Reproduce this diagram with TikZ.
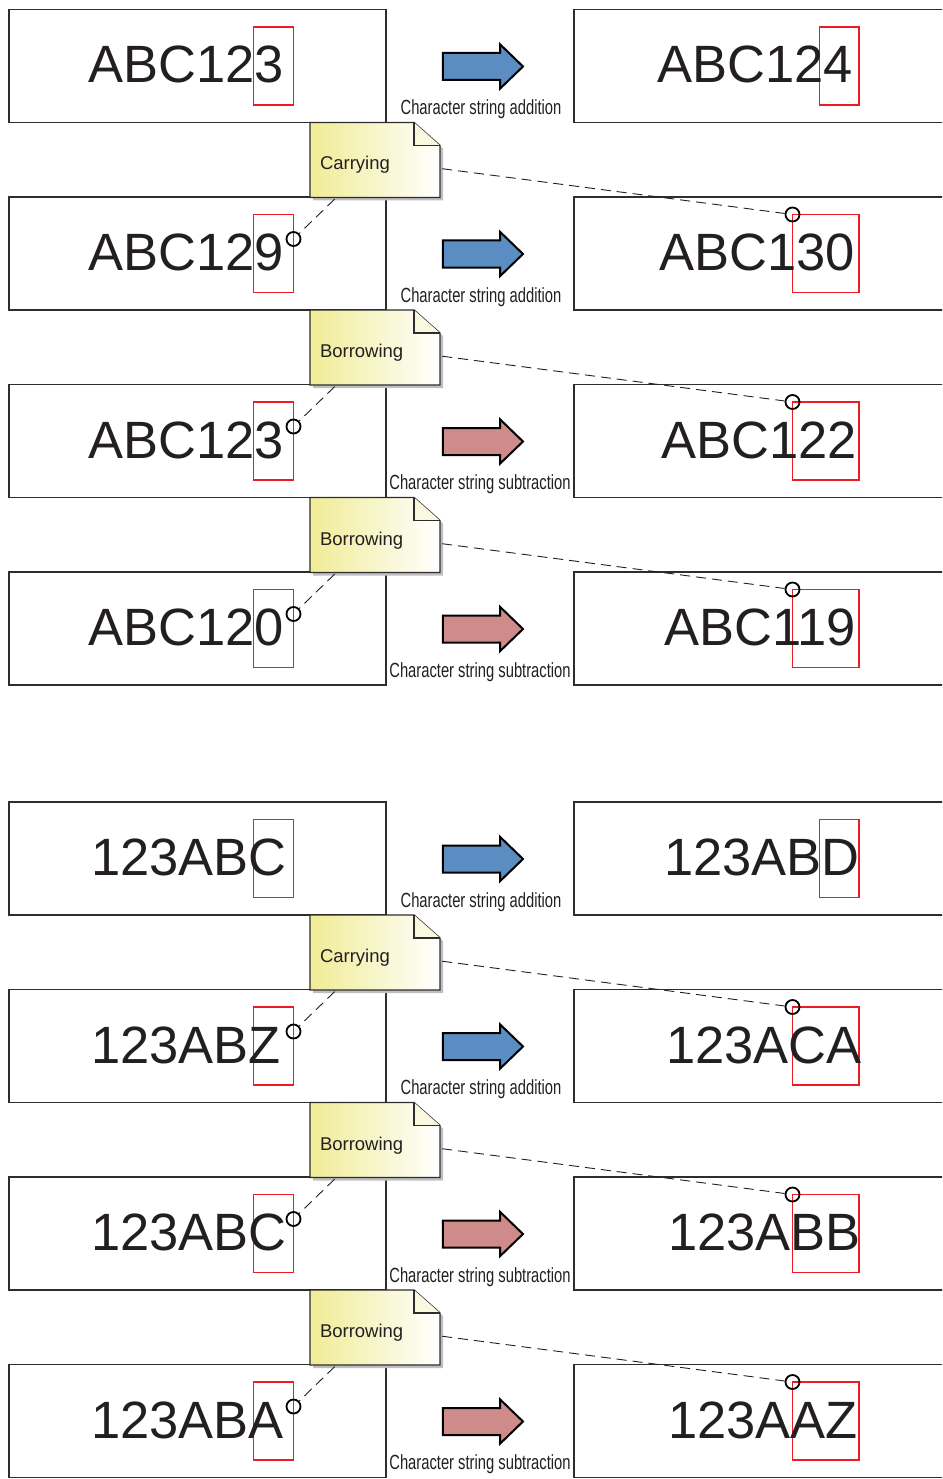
\documentclass[tikz,border=0pt]{standalone}
\usepackage{fontspec}
\setmainfont{Liberation Sans}
\newfontfamily\condensed[FakeStretch=0.72]{Liberation Sans}
\usetikzlibrary{shapes.arrows}

\definecolor{ink}{RGB}{35,31,32}
\definecolor{framegray}{RGB}{45,45,45}
\definecolor{hired}{RGB}{237,28,36}
\definecolor{addblue}{RGB}{92,141,194}
\definecolor{subpink}{RGB}{207,138,138}
\definecolor{memoyellow}{RGB}{240,236,150}
\definecolor{memofold}{RGB}{250,248,222}
\definecolor{memoshadow}{RGB}{190,190,195}

\begin{document}
\begin{tikzpicture}[x=1pt, y=-1pt,
    cell/.style={draw=framegray, line width=1.6pt, minimum height=113pt, inner sep=0},
    hilite/.style={draw=hired, line width=1.8pt, minimum height=78pt, inner sep=0},
    word/.style={font=\fontsize{52.5}{60}\selectfont, text=ink, inner sep=0},
    ring/.style={circle, draw=black, line width=1.8pt, minimum size=14pt, inner sep=0},
    plus/.style={single arrow, draw=black, line width=2pt, fill=addblue, minimum height=80pt,
      inner xsep=0, inner ysep=12.5pt, single arrow head extend=8.5pt, single arrow tip angle=88},
    minus/.style={plus, fill=subpink},
    oplabel/.style={font=\condensed\fontsize{20.5}{24}\selectfont, text=ink, inner sep=0},
    link/.style={draw=ink, line width=0.9pt, dash pattern=on 10pt off 6pt, shorten <=2pt},
    memotext/.style={text width=110pt, inner xsep=10pt, inner ysep=0, minimum height=75pt,
      text height=20pt, text depth=0pt, align=left, font=\fontsize{18.5}{22}\selectfont, text=ink},
    pics/memo/.style={code={
      \fill[memoshadow] (-62,-34.5) -- (42,-34.5) -- (68,-11.5) -- (68,40.5) -- (-62,40.5) -- cycle;
      \shadedraw[left color=memoyellow, right color=white, draw=framegray, line width=1.4pt]
        (-65,-37.5) -- (39,-37.5) -- (65,-14.5) -- (65,37.5) -- (-65,37.5) -- cycle;
      \filldraw[fill=memofold, draw=framegray, line width=1.4pt] (39,-37.5) -- (39,-14.5) -- (65,-14.5);
      \node[memotext] (-txt) at (0,0) {#1};
    }}]
  \clip (0,0) rectangle (942,1479);

  % boxes
  \node[cell, minimum width=377pt] (l1) at (197.5,66) {};
  \node[cell, minimum width=377pt] (l2) at (197.5,253.5) {};
  \node[cell, minimum width=377pt] (l3) at (197.5,441) {};
  \node[cell, minimum width=377pt] (l4) at (197.5,628.5) {};
  \node[cell, minimum width=377pt] (l5) at (197.5,858.5) {};
  \node[cell, minimum width=377pt] (l6) at (197.5,1046) {};
  \node[cell, minimum width=377pt] (l7) at (197.5,1233.5) {};
  \node[cell, minimum width=377pt] (l8) at (197.5,1421) {};
  \node[cell, minimum width=380pt] (r1) at (764,66) {};
  \node[cell, minimum width=380pt] (r2) at (764,253.5) {};
  \node[cell, minimum width=380pt] (r3) at (764,441) {};
  \node[cell, minimum width=380pt] (r4) at (764,628.5) {};
  \node[cell, minimum width=380pt] (r5) at (764,858.5) {};
  \node[cell, minimum width=380pt] (r6) at (764,1046) {};
  \node[cell, minimum width=380pt] (r7) at (764,1233.5) {};
  \node[cell, minimum width=380pt] (r8) at (764,1421) {};

  % highlighted characters
  \node[hilite, minimum width=40pt] (h1l) at (273.5,66) {};
  \node[hilite, minimum width=40pt] (h2l) at (273.5,253.5) {};
  \node[hilite, minimum width=40pt] (h3l) at (273.5,441) {};
  \node[hilite, minimum width=40pt] (h4l) at (273.5,628.5) {};
  \node[hilite, minimum width=40pt] (h5l) at (273.5,858.5) {};
  \node[hilite, minimum width=40pt] (h6l) at (273.5,1046) {};
  \node[hilite, minimum width=40pt] (h7l) at (273.5,1233.5) {};
  \node[hilite, minimum width=40pt] (h8l) at (273.5,1421) {};
  \node[hilite, minimum width=39.5pt] (h1r) at (839.25,66) {};
  \node[hilite, minimum width=66.5pt] (h2r) at (825.75,253.5) {};
  \node[hilite, minimum width=66.5pt] (h3r) at (825.75,441) {};
  \node[hilite, minimum width=66.5pt] (h4r) at (825.75,628.5) {};
  \node[hilite, minimum width=39.5pt] (h5r) at (839.25,858.5) {};
  \node[hilite, minimum width=66.5pt] (h6r) at (825.75,1046) {};
  \node[hilite, minimum width=66.5pt] (h7r) at (825.75,1233.5) {};
  \node[hilite, minimum width=66.5pt] (h8r) at (825.75,1421) {};

  % strings
  \node[word, anchor=base west] (w1l) at (88,83) {ABC123};
  \node[word, anchor=base west] (w2l) at (88,270.5) {ABC129};
  \node[word, anchor=base west] (w3l) at (88,458) {ABC123};
  \node[word, anchor=base west] (w4l) at (88,645.5) {ABC120};
  \node[word, anchor=base west] (w5l) at (91,875.5) {123ABC};
  \node[word, anchor=base west] (w6l) at (91,1063) {123ABZ};
  \node[word, anchor=base west] (w7l) at (91,1250.5) {123ABC};
  \node[word, anchor=base west] (w8l) at (91,1438) {123ABA};
  \node[word, anchor=base east] (w1r) at (853,83) {ABC124};
  \node[word, anchor=base east] (w2r) at (855,270.5) {ABC130};
  \node[word, anchor=base east] (w3r) at (857,458) {ABC122};
  \node[word, anchor=base east] (w4r) at (856,645.5) {ABC119};
  \node[word, anchor=base east] (w5r) at (860,875.5) {123ABD};
  \node[word, anchor=base east] (w6r) at (862,1063) {123ACA};
  \node[word, anchor=base east] (w7r) at (861,1250.5) {123ABB};
  \node[word, anchor=base east] (w8r) at (858,1438) {123AAZ};

  % operations
  \node[plus] (a1) at (476,66.5) {};
  \node[plus] (a2) at (476,254) {};
  \node[minus] (a3) at (476,441.5) {};
  \node[minus] (a4) at (476,629) {};
  \node[plus] (a5) at (476,859) {};
  \node[plus] (a6) at (476,1046.5) {};
  \node[minus] (a7) at (476,1234) {};
  \node[minus] (a8) at (476,1421.5) {};
  \node[oplabel, anchor=base] (o1) at (481,114.5) {Character string addition};
  \node[oplabel, anchor=base] (o2) at (481,302) {Character string addition};
  \node[oplabel, anchor=base] (o3) at (480,489.5) {Character string subtraction};
  \node[oplabel, anchor=base] (o4) at (480,677) {Character string subtraction};
  \node[oplabel, anchor=base] (o5) at (481,907) {Character string addition};
  \node[oplabel, anchor=base] (o6) at (481,1094.5) {Character string addition};
  \node[oplabel, anchor=base] (o7) at (480,1282) {Character string subtraction};
  \node[oplabel, anchor=base] (o8) at (480,1469.5) {Character string subtraction};

  % changed digits
  \node[ring] (c2l) at (293.5,239) {};
  \node[ring] (c3l) at (293.5,426.5) {};
  \node[ring] (c4l) at (293.5,614) {};
  \node[ring] (c6l) at (293.5,1031.5) {};
  \node[ring] (c7l) at (293.5,1219) {};
  \node[ring] (c8l) at (293.5,1406.5) {};
  \node[ring] (c2r) at (792.5,214.5) {};
  \node[ring] (c3r) at (792.5,402) {};
  \node[ring] (c4r) at (792.5,589.5) {};
  \node[ring] (c6r) at (792.5,1007) {};
  \node[ring] (c7r) at (792.5,1194.5) {};
  \node[ring] (c8r) at (792.5,1382) {};

  % notes
  \pic (n2) at (375,160) {memo=Carrying};
  \pic (n3) at (375,347.5) {memo=Borrowing};
  \pic (n4) at (375,535) {memo=Borrowing};
  \pic (n6) at (375,952.5) {memo=Carrying};
  \pic (n7) at (375,1140) {memo=Borrowing};
  \pic (n8) at (375,1327.5) {memo=Borrowing};

  \draw[link] (n2-txt) -- (c2l);
  \draw[link] (n2-txt) -- (c2r);
  \draw[link] (n3-txt) -- (c3l);
  \draw[link] (n3-txt) -- (c3r);
  \draw[link] (n4-txt) -- (c4l);
  \draw[link] (n4-txt) -- (c4r);
  \draw[link] (n6-txt) -- (c6l);
  \draw[link] (n6-txt) -- (c6r);
  \draw[link] (n7-txt) -- (c7l);
  \draw[link] (n7-txt) -- (c7r);
  \draw[link] (n8-txt) -- (c8l);
  \draw[link] (n8-txt) -- (c8r);
\end{tikzpicture}
\end{document}
